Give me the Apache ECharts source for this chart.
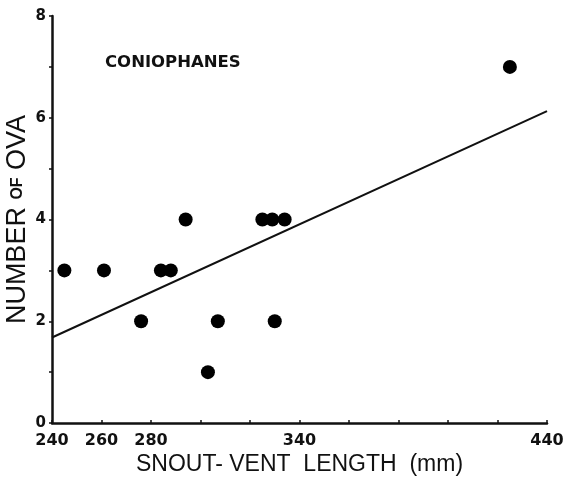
<!DOCTYPE html>
<html><head><meta charset="utf-8">
<script src="https://cdn.jsdelivr.net/npm/echarts@6/dist/echarts.min.js"></script>
<style>html,body{margin:0;padding:0;background:#fff}#c{width:563px;height:479px}</style>
</head><body><div id="c"></div>
<script>
const snoutVent = [245, 261, 276, 284, 288, 294, 303, 307, 325, 329, 330, 334, 425];
const ova       = [3,   3,   2,   3,   3,   4,   1,   2,   4,   4,   2,   4,   7];
const fitX = [240, 440];
const fitY = [1.68, 6.13];
const xLabels = [240, 260, 280, 340, 440];
const yLabels = [0, 2, 4, 6, 8];

const chart = echarts.init(document.getElementById('c'));
const font = 'DejaVu Sans';
chart.setOption({
  animation: false,
  backgroundColor: '#fff',
  grid: {left: 52, right: 16, top: 16, bottom: 56, containLabel: false, outerBoundsMode: 'none'},
  title: {text: 'CONIOPHANES', left: 100, top: 49,
    textStyle: {fontFamily: font, fontWeight: 'bold', fontSize: 16.5, color: '#111'}},
  xAxis: {type: 'value', min: 240, max: 440, interval: 20,
    name: 'SNOUT- VENT  LENGTH  (mm)', nameLocation: 'middle', nameGap: 30, nameMoveOverlap: false,
    nameTextStyle: {fontFamily: 'Liberation Sans', fontSize: 23, color: '#111'},
    axisLine: {lineStyle: {color: '#111', width: 2.5}},
    axisTick: {inside: true, length: 3, lineStyle: {color: '#111', width: 1.5}},
    splitLine: {show: false},
    axisLabel: {margin: 10, fontFamily: font, fontWeight: 'bold', fontSize: 16, color: '#111',
      formatter: v => xLabels.includes(v) ? String(v) : ''}
  },
  yAxis: {type: 'value', min: 0, max: 8, interval: 1,
    name: '{a|NUMBER }{b|OF}{a| OVA}', nameLocation: 'middle', nameGap: 21, nameMoveOverlap: false,
    nameTextStyle: {rich: {
      a: {fontFamily: 'Liberation Sans', fontSize: 27, color: '#111'},
      b: {fontFamily: 'Liberation Sans', fontSize: 16, fontWeight: 'bold', color: '#111'}}},
    axisLine: {lineStyle: {color: '#111', width: 2.5}},
    axisTick: {inside: false, length: 3, lineStyle: {color: '#111', width: 1.5}},
    splitLine: {show: false},
    axisLabel: {margin: 6, fontFamily: font, fontWeight: 'bold', fontSize: 15, color: '#111',
      formatter: v => yLabels.includes(v) ? String(v) : ''}
  },
  series: [
    {type: 'line', data: fitX.map((x, i) => [x, fitY[i]]), symbol: 'none',
      lineStyle: {color: '#111', width: 2}, z: 1},
    {type: 'scatter', data: snoutVent.map((x, i) => [x, ova[i]]), symbolSize: 14,
      itemStyle: {color: '#000', opacity: 1}, z: 2}
  ]
});
</script></body></html>
